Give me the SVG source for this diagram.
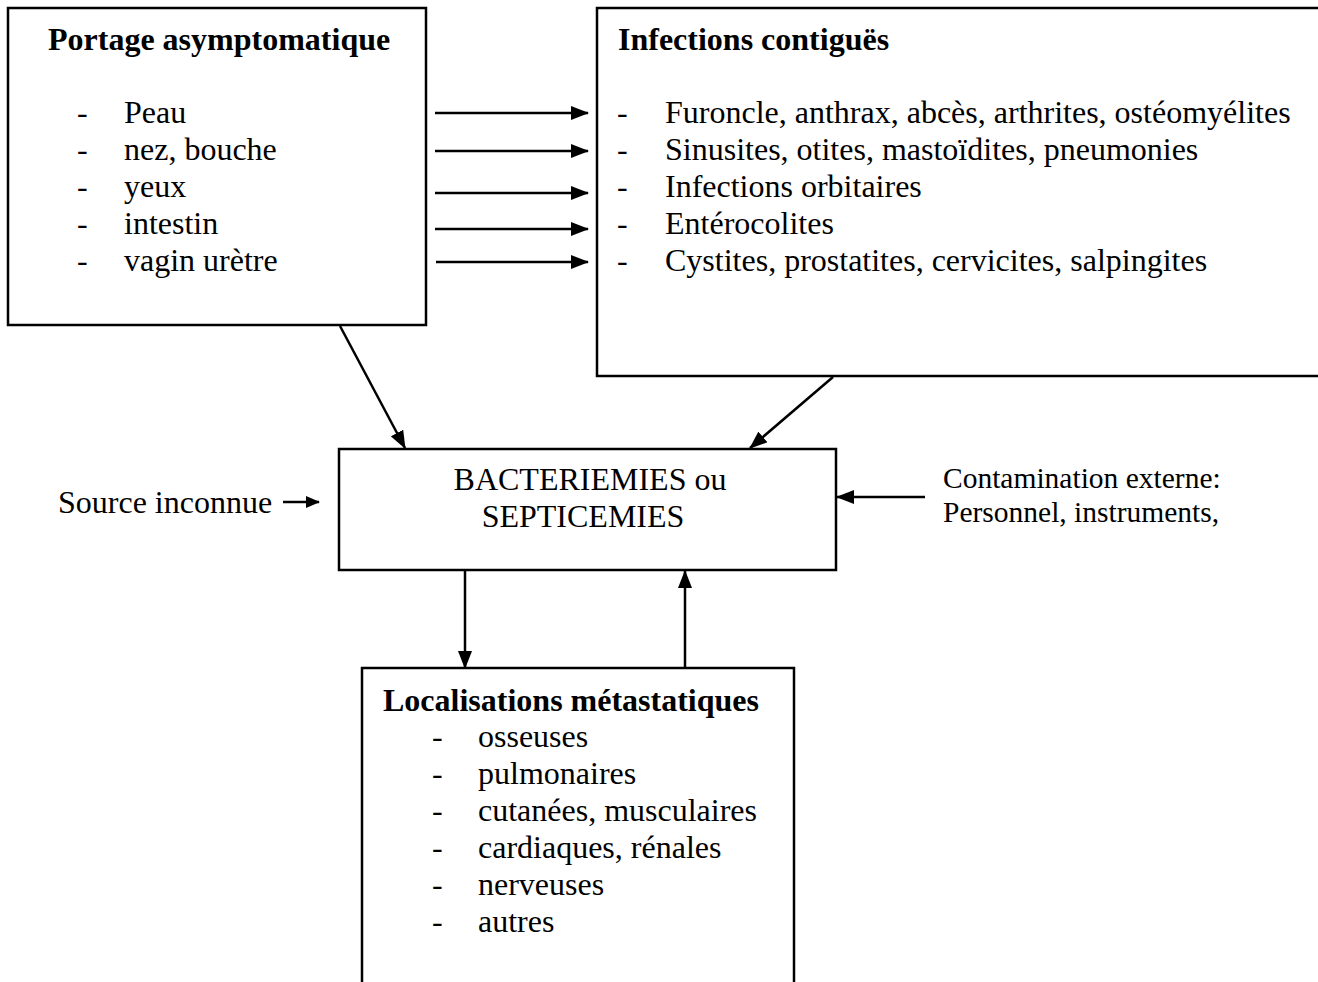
<svg xmlns="http://www.w3.org/2000/svg" width="1318" height="982" viewBox="0 0 1318 982">
<style>
.box{fill:#fff;stroke:#000;stroke-width:2.5}
.t{font-family:"Liberation Serif","Times New Roman",serif;font-size:32px;fill:#000}
.s{font-size:29.5px}
.b{font-weight:bold}
.c{stroke:#000;stroke-width:2.5;fill:none}
</style>
<defs>
<marker id="ah" markerUnits="userSpaceOnUse" markerWidth="18" markerHeight="14" refX="17" refY="7" orient="auto">
<path d="M0,0 L18,7 L0,14 Z" fill="#000"/>
</marker>
<marker id="ahs" markerUnits="userSpaceOnUse" markerWidth="14" markerHeight="12" refX="13" refY="6" orient="auto">
<path d="M0,0 L14,6 L0,12 Z" fill="#000"/>
</marker>
</defs>
<rect width="1318" height="982" fill="#fff"/>
<g id="portage">
<rect class="box" x="8" y="8" width="418" height="317"/>
<text class="t b" x="48" y="50">Portage asymptomatique</text>
<text class="t" x="77" y="123">-</text><text class="t" x="124" y="123">Peau</text>
<text class="t" x="77" y="160">-</text><text class="t" x="124" y="160">nez, bouche</text>
<text class="t" x="77" y="197">-</text><text class="t" x="124" y="197">yeux</text>
<text class="t" x="77" y="234">-</text><text class="t" x="124" y="234">intestin</text>
<text class="t" x="77" y="271">-</text><text class="t" x="124" y="271">vagin urètre</text>
</g>
<g id="infections">
<rect class="box" x="597" y="8" width="760" height="368"/>
<text class="t b" x="618" y="50">Infections contiguës</text>
<text class="t" x="617" y="123">-</text><text class="t" x="665" y="123">Furoncle, anthrax, abcès, arthrites, ostéomyélites</text>
<text class="t" x="617" y="160">-</text><text class="t" x="665" y="160">Sinusites, otites, mastoïdites, pneumonies</text>
<text class="t" x="617" y="197">-</text><text class="t" x="665" y="197">Infections orbitaires</text>
<text class="t" x="617" y="234">-</text><text class="t" x="665" y="234">Entérocolites</text>
<text class="t" x="617" y="271">-</text><text class="t" x="665" y="271">Cystites, prostatites, cervicites, salpingites</text>
</g>
<g id="bacteriemies">
<rect class="box" x="339" y="449" width="497" height="121"/>
<text class="t" x="590" y="490" text-anchor="middle">BACTERIEMIES ou</text>
<text class="t" x="583" y="527" text-anchor="middle">SEPTICEMIES</text>
</g>
<g id="source">
<text class="t" x="58" y="513">Source inconnue</text>
</g>
<g id="contamination">
<text class="t s" x="943" y="488">Contamination externe:</text>
<text class="t s" x="943" y="522">Personnel, instruments,</text>
</g>
<g id="localisations">
<rect class="box" x="362" y="668" width="432" height="330"/>
<text class="t b" x="383" y="711">Localisations métastatiques</text>
<text class="t" x="432" y="747">-</text><text class="t" x="478" y="747">osseuses</text>
<text class="t" x="432" y="784">-</text><text class="t" x="478" y="784">pulmonaires</text>
<text class="t" x="432" y="821">-</text><text class="t" x="478" y="821">cutanées, musculaires</text>
<text class="t" x="432" y="858">-</text><text class="t" x="478" y="858">cardiaques, rénales</text>
<text class="t" x="432" y="895">-</text><text class="t" x="478" y="895">nerveuses</text>
<text class="t" x="432" y="932">-</text><text class="t" x="478" y="932">autres</text>
</g>
<g id="connectors">
<line class="c" x1="435" y1="113" x2="588" y2="113" marker-end="url(#ah)"/>
<line class="c" x1="435" y1="151" x2="588" y2="151" marker-end="url(#ah)"/>
<line class="c" x1="435" y1="193" x2="588" y2="193" marker-end="url(#ah)"/>
<line class="c" x1="435" y1="229" x2="588" y2="229" marker-end="url(#ah)"/>
<line class="c" x1="436" y1="262" x2="588" y2="262" marker-end="url(#ah)"/>
<line class="c" x1="340" y1="326" x2="405" y2="448" marker-end="url(#ah)"/>
<line class="c" x1="833" y1="377" x2="750" y2="448" marker-end="url(#ah)"/>
<line class="c" x1="283" y1="502" x2="319" y2="502" marker-end="url(#ahs)"/>
<line class="c" x1="925" y1="497" x2="837" y2="497" marker-end="url(#ah)"/>
<line class="c" x1="465" y1="571" x2="465" y2="668" marker-end="url(#ah)"/>
<line class="c" x1="685" y1="668" x2="685" y2="571" marker-end="url(#ah)"/>
</g>
</svg>
